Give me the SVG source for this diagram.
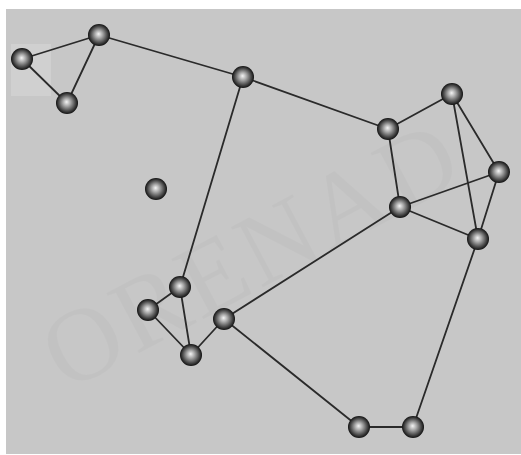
<svg xmlns="http://www.w3.org/2000/svg" width="521" height="455" viewBox="0 0 521 455">
<defs>
<radialGradient id="ball" cx="50%" cy="50%" r="50%" fx="48%" fy="45%">
<stop offset="0" stop-color="#f4f4f4"/>
<stop offset="0.35" stop-color="#a8a8a8"/>
<stop offset="0.75" stop-color="#4a4a4a"/>
<stop offset="1" stop-color="#111"/>
</radialGradient>
</defs>
<style>
.edge{stroke:#2a2a2a;stroke-width:1.8;fill:none;stroke-linecap:round}
.node{fill:url(#ball)}
.wm{font-family:"Liberation Serif",serif;font-size:104px;fill:#b9b9b9;opacity:0.3}
</style>
<rect x="0" y="0" width="521" height="455" fill="#ffffff"/>
<rect x="6" y="9" width="515" height="445" fill="#c7c7c7"/>
<rect x="11" y="44" width="40" height="52" fill="#d0d0d0"/>
<text class="wm" transform="translate(66,392) rotate(-28)" letter-spacing="4">ORENAD</text>
<g id="connectors">
<line class="edge" x1="22" y1="59" x2="99" y2="35"/>
<line class="edge" x1="22" y1="59" x2="67" y2="103"/>
<line class="edge" x1="99" y1="35" x2="67" y2="103"/>
<line class="edge" x1="99" y1="35" x2="243" y2="77"/>
<line class="edge" x1="243" y1="77" x2="388" y2="129"/>
<line class="edge" x1="243" y1="77" x2="180" y2="287"/>
<line class="edge" x1="388" y1="129" x2="452" y2="94"/>
<line class="edge" x1="388" y1="129" x2="400" y2="207"/>
<line class="edge" x1="452" y1="94" x2="499" y2="172"/>
<line class="edge" x1="452" y1="94" x2="478" y2="239"/>
<line class="edge" x1="499" y1="172" x2="400" y2="207"/>
<line class="edge" x1="499" y1="172" x2="478" y2="239"/>
<line class="edge" x1="400" y1="207" x2="478" y2="239"/>
<line class="edge" x1="400" y1="207" x2="224" y2="319"/>
<line class="edge" x1="180" y1="287" x2="148" y2="310"/>
<line class="edge" x1="180" y1="287" x2="191" y2="355"/>
<line class="edge" x1="148" y1="310" x2="191" y2="355"/>
<line class="edge" x1="224" y1="319" x2="191" y2="355"/>
<line class="edge" x1="224" y1="319" x2="359" y2="427"/>
<line class="edge" x1="359" y1="427" x2="413" y2="427"/>
<line class="edge" x1="413" y1="427" x2="478" y2="239"/>
</g>
<g id="n1"><circle class="node" cx="22" cy="59" r="11"/></g>
<g id="n2"><circle class="node" cx="99" cy="35" r="11"/></g>
<g id="n3"><circle class="node" cx="67" cy="103" r="11"/></g>
<g id="n4"><circle class="node" cx="243" cy="77" r="11"/></g>
<g id="n5"><circle class="node" cx="388" cy="129" r="11"/></g>
<g id="n6"><circle class="node" cx="452" cy="94" r="11"/></g>
<g id="n7"><circle class="node" cx="499" cy="172" r="11"/></g>
<g id="n8"><circle class="node" cx="400" cy="207" r="11"/></g>
<g id="n9"><circle class="node" cx="478" cy="239" r="11"/></g>
<g id="n10"><circle class="node" cx="156" cy="189" r="11"/></g>
<g id="n11"><circle class="node" cx="180" cy="287" r="11"/></g>
<g id="n12"><circle class="node" cx="148" cy="310" r="11"/></g>
<g id="n13"><circle class="node" cx="191" cy="355" r="11"/></g>
<g id="n14"><circle class="node" cx="224" cy="319" r="11"/></g>
<g id="n15"><circle class="node" cx="359" cy="427" r="11"/></g>
<g id="n16"><circle class="node" cx="413" cy="427" r="11"/></g>
</svg>
